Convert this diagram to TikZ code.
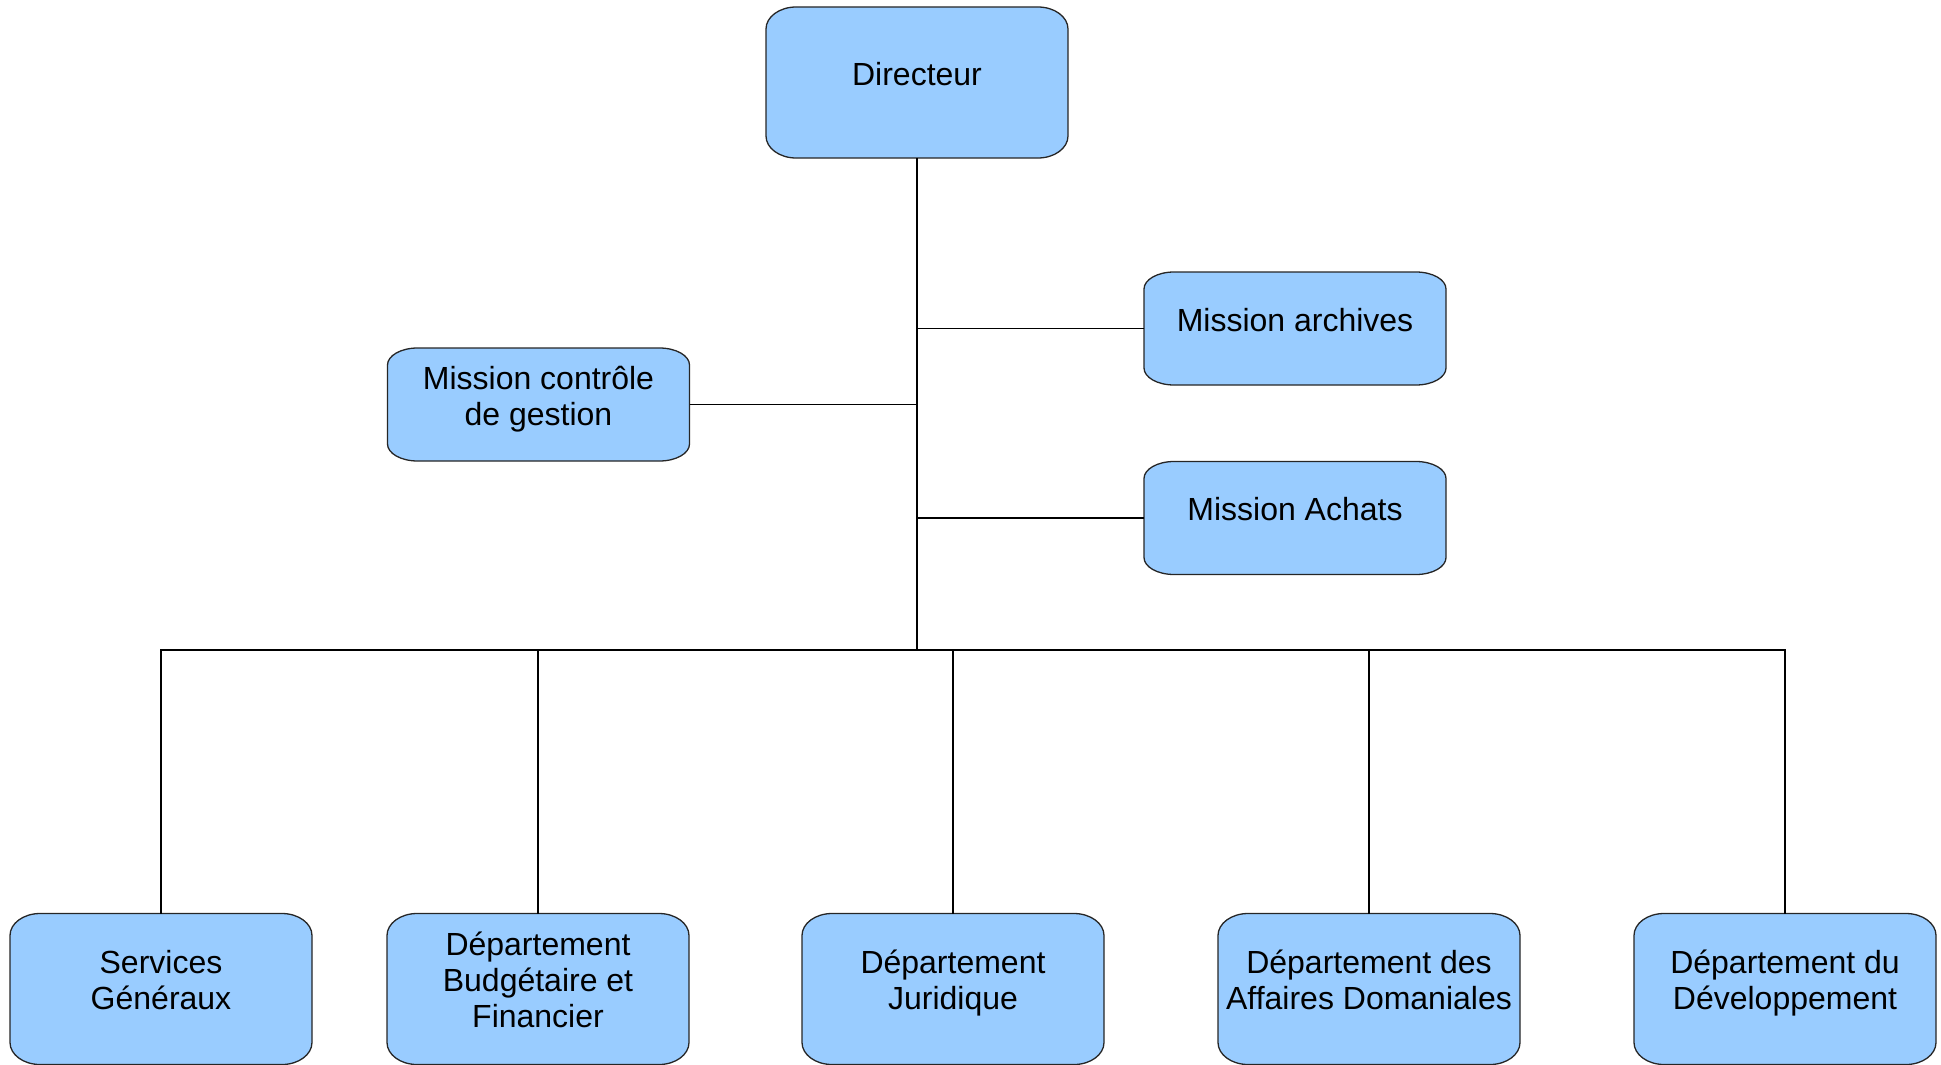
\documentclass[tikz,border=0pt]{standalone}
\usepackage{fontspec}
\setmainfont{Liberation Sans}
\usetikzlibrary{positioning,backgrounds}

\definecolor{boxblue}{RGB}{153,204,255}

% box outline with elliptic corners: node, x radius, y radius
\newcommand{\orgoutline}[3]{%
  \path[boxpaint] ([xshift=#2]#1.north west) -- ([xshift=-#2]#1.north east)
    arc[start angle=90, end angle=0, x radius=#2, y radius=#3]
    -- ([yshift=#3]#1.south east)
    arc[start angle=0, end angle=-90, x radius=#2, y radius=#3]
    -- ([xshift=#2]#1.south west)
    arc[start angle=270, end angle=180, x radius=#2, y radius=#3]
    -- ([yshift=-#3]#1.north west)
    arc[start angle=180, end angle=90, x radius=#2, y radius=#3]
    -- cycle;}

\begin{document}
\begin{tikzpicture}[
    x=1pt, y=1pt,
    font=\fontsize{32}{36}\selectfont,
    unit/.style={align=center, minimum width=302pt, inner sep=0pt, outer sep=0pt, text depth=18pt},
    dept/.style={unit, minimum height=151pt},
    mission/.style={unit, minimum height=113pt},
    boxpaint/.style={fill=boxblue, draw=black!85, line width=1.3pt},
    link/.style={draw=black, line width=1.2pt}
]
\useasboundingbox (0,0) rectangle (1941,-1065);

% DIRECTION
\node[dept] (dir) at (917,-82.5) {Directeur};

% MISSIONS
\node[mission] (ctrl) at (538.5,-404.5) {Mission contrôle\\de gestion};
\node[mission] (arch) at (1295,-328.5) {Mission archives};
\node[mission] (achat) at (1295,-518) {Mission Achats};

% DEPARTEMENTS
\node[dept] (sg) at (161,-989) {Services\\Généraux};
\node[dept, right=75pt of sg] (dbf) {Département\\Budgétaire et\\Financier};
\node[dept, right=113pt of dbf] (dj) {Département\\Juridique};
\node[dept, right=114pt of dj] (dad) {Département des\\Affaires Domaniales};
\node[dept, right=114pt of dad] (ddev) {Département du\\Développement};

\begin{scope}[on background layer]
    \foreach \n in {dir,sg,dbf,dj,dad,ddev} {\orgoutline{\n}{30pt}{22pt}}
    \foreach \n in {ctrl,arch,achat} {\orgoutline{\n}{30pt}{17pt}}
\end{scope}

% LIENS
\coordinate (bus) at (917,-650);
\draw[link] (dir) -- (bus);
\draw[link] (arch) -- (arch -| dir);
\draw[link] (achat) -- (achat -| dir);
\draw[link] (ctrl) -- (ctrl -| dir);
\draw[link] (sg) |- (bus);
\draw[link] (dbf) |- (bus);
\draw[link] (dj) |- (bus);
\draw[link] (dad) |- (bus);
\draw[link] (ddev) |- (bus);

\end{tikzpicture}
\end{document}
